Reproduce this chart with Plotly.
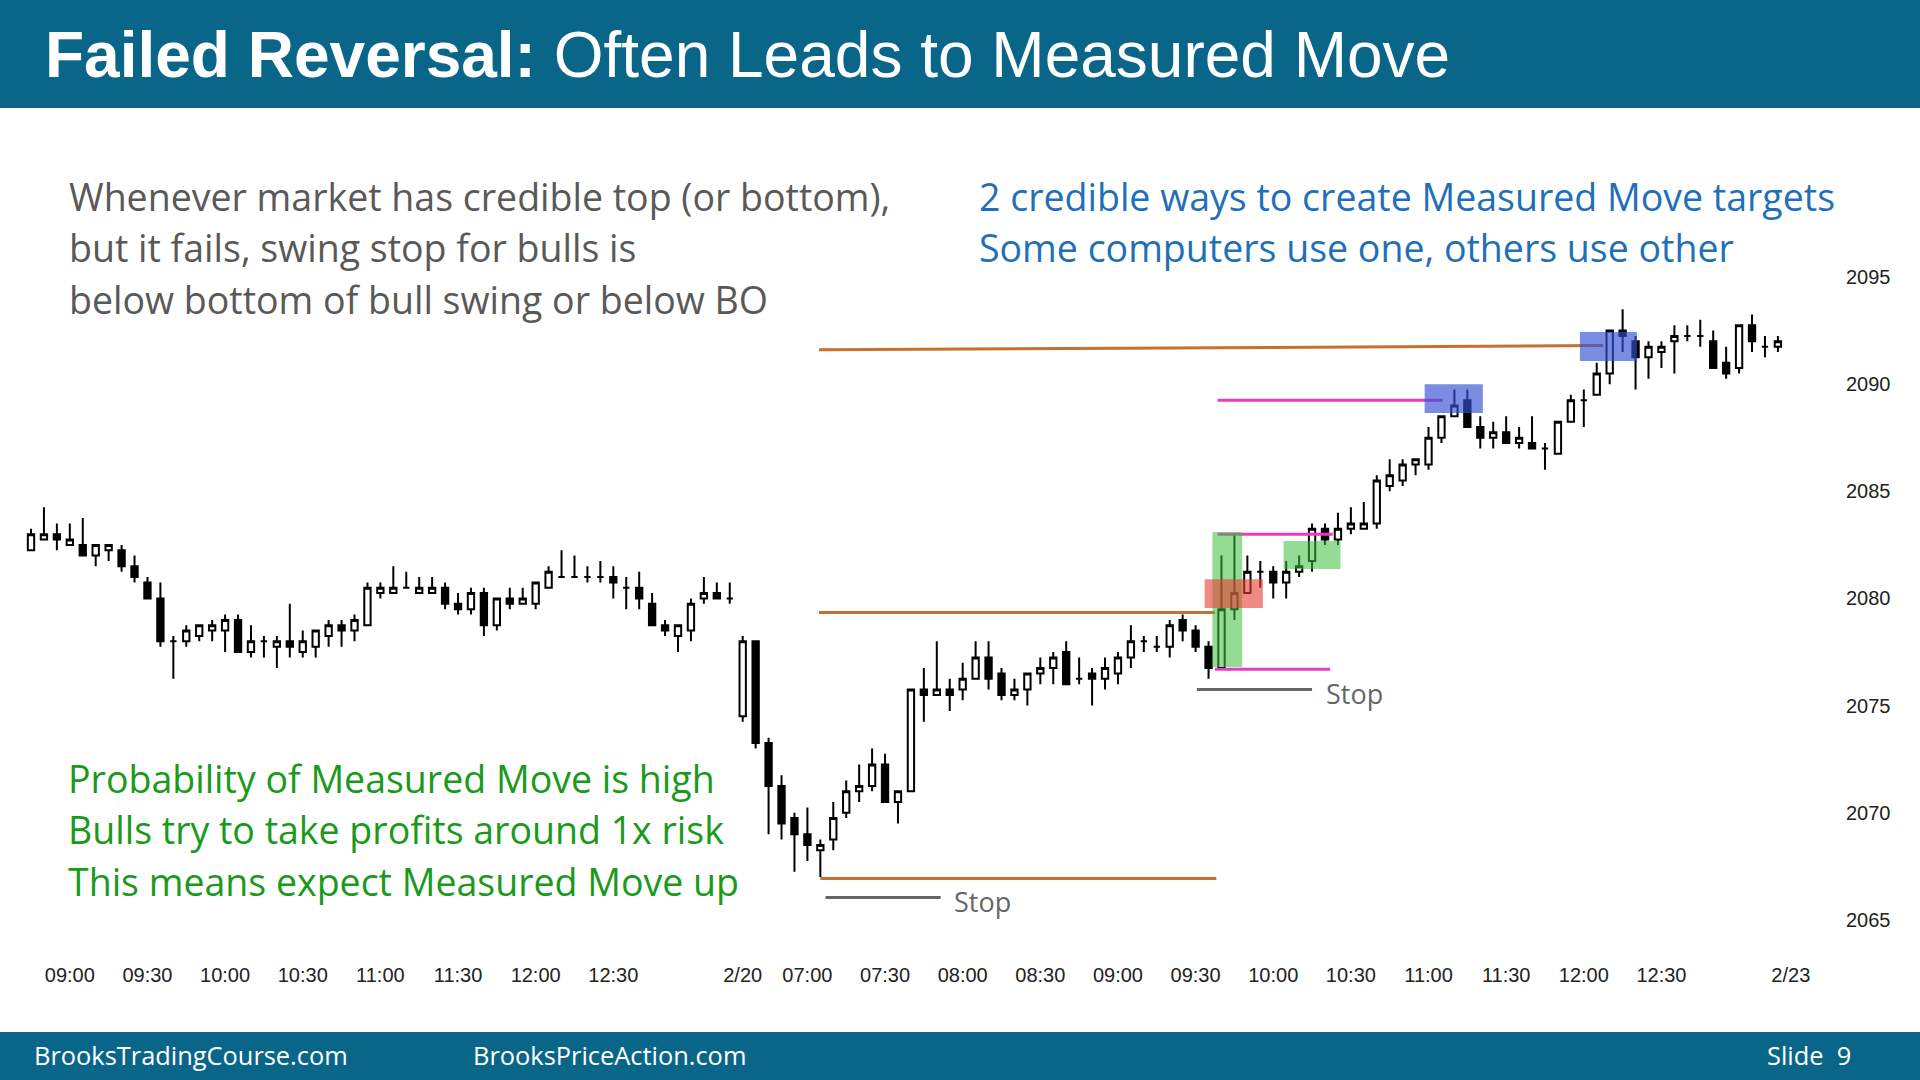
import plotly.graph_objects as go

# ---------------- data (5-min bars, index 0..135) ----------------
opens = [2082.25, 2082.75, 2083.0, 2082.5, 2082.5, 2082.0, 2082.25, 2082.25, 2081.5, 2080.75,
         2080.0, 2078.0, 2078.0, 2078.25, 2078.5, 2078.5, 2079.0, 2077.5, 2078.0, 2077.75,
         2078.0, 2077.5, 2077.75, 2078.25, 2078.75, 2078.5, 2078.75, 2080.25, 2080.25, 2080.5,
         2080.25, 2080.25, 2080.5, 2079.75, 2079.5, 2080.25, 2078.75, 2080.0, 2079.75, 2079.75,
         2080.5, 2081.0, 2081.0, 2081.0, 2081.0, 2081.0, 2080.5, 2080.5, 2079.75, 2078.75,
         2078.25, 2078.5, 2080.0, 2080.25, 2080.0,
         2074.5, 2078.0, 2073.25, 2071.25, 2069.75, 2069.0, 2068.25, 2068.75, 2070.0, 2071.0,
         2071.25, 2072.25, 2070.5, 2071.0, 2075.75, 2075.5, 2075.75, 2075.75, 2076.25, 2077.25,
         2076.5, 2075.5, 2075.75, 2076.5, 2076.75, 2077.5, 2076.25, 2076.5, 2076.25, 2076.5,
         2077.25, 2078.0, 2077.75, 2077.75, 2079.0, 2078.5, 2077.75, 2076.75, 2079.5, 2080.25,
         2081.25, 2081.25, 2080.75, 2081.25, 2081.75, 2083.25, 2082.75, 2083.25, 2083.25, 2083.5,
         2085.25, 2085.5, 2086.25, 2086.25, 2087.5, 2088.5, 2089.25, 2088.0, 2087.5, 2087.75,
         2087.25, 2087.25, 2087.0, 2086.75, 2088.25, 2089.25, 2089.5, 2090.5, 2092.5, 2092.0,
         2091.25, 2091.5, 2092.0, 2092.25, 2092.25, 2092.0, 2091.0, 2090.75, 2092.75, 2091.75,
         2091.75]
highs = [2083.25, 2084.25, 2083.5, 2083.5, 2083.75, 2082.5, 2082.5, 2082.5, 2082.0, 2081.0,
         2080.75, 2078.25, 2078.75, 2078.75, 2079.0, 2079.25, 2079.25, 2078.75, 2078.25, 2078.25,
         2079.75, 2078.5, 2078.5, 2079.0, 2079.0, 2079.25, 2080.75, 2080.75, 2081.5, 2081.25,
         2081.0, 2081.0, 2080.75, 2080.25, 2080.5, 2080.5, 2080.0, 2080.5, 2080.5, 2080.75,
         2081.5, 2082.25, 2082.0, 2081.5, 2081.75, 2081.5, 2081.0, 2081.25, 2080.25, 2079.0,
         2078.75, 2080.0, 2081.0, 2080.75, 2080.75,
         2078.25, 2078.0, 2073.5, 2071.75, 2070.0, 2070.25, 2068.75, 2070.5, 2071.5, 2072.25,
         2073.0, 2072.75, 2071.0, 2075.75, 2076.75, 2078.0, 2076.25, 2077.0, 2078.0, 2078.0,
         2076.75, 2076.25, 2076.5, 2077.25, 2077.5, 2078.0, 2077.25, 2076.75, 2077.25, 2077.5,
         2078.75, 2078.25, 2078.25, 2079.0, 2079.25, 2078.75, 2078.0, 2082.0, 2083.0, 2082.0,
         2081.75, 2081.5, 2081.75, 2082.0, 2083.5, 2083.5, 2084.0, 2084.25, 2084.5, 2085.75,
         2086.5, 2086.5, 2086.5, 2088.0, 2088.5, 2089.75, 2089.75, 2088.5, 2088.25, 2088.5,
         2088.0, 2088.5, 2087.25, 2088.25, 2089.5, 2089.75, 2091.0, 2092.5, 2093.5, 2092.25,
         2092.0, 2092.0, 2092.75, 2092.75, 2093.0, 2092.5, 2091.75, 2092.75, 2093.25, 2092.25,
         2092.25]
lows = [2082.25, 2082.75, 2082.25, 2082.5, 2082.0, 2081.5, 2081.75, 2081.25, 2080.75, 2080.0,
        2077.75, 2076.25, 2077.75, 2078.0, 2078.0, 2077.5, 2077.5, 2077.25, 2077.25, 2076.75,
        2077.25, 2077.25, 2077.25, 2077.75, 2077.75, 2078.0, 2078.75, 2080.0, 2080.25, 2080.5,
        2080.25, 2080.25, 2079.5, 2079.25, 2079.25, 2078.25, 2078.5, 2079.5, 2079.75, 2079.5,
        2080.5, 2081.0, 2081.0, 2080.75, 2080.75, 2080.0, 2079.5, 2079.5, 2078.75, 2078.25,
        2077.5, 2078.0, 2079.75, 2080.0, 2079.75,
        2074.25, 2073.0, 2069.0, 2068.75, 2067.25, 2067.75, 2067.0, 2068.25, 2069.75, 2070.5,
        2071.0, 2070.5, 2069.5, 2071.0, 2074.25, 2075.5, 2074.75, 2075.25, 2076.25, 2075.75,
        2075.25, 2075.25, 2075.0, 2076.0, 2076.0, 2076.0, 2076.0, 2075.0, 2075.75, 2076.0,
        2076.75, 2077.5, 2077.5, 2077.25, 2078.0, 2077.5, 2076.25, 2076.75, 2079.0, 2080.25,
        2080.5, 2080.0, 2080.0, 2081.0, 2081.25, 2082.5, 2082.5, 2083.0, 2083.25, 2083.25,
        2085.0, 2085.25, 2085.75, 2086.0, 2087.25, 2088.5, 2088.0, 2087.0, 2087.0, 2087.25,
        2087.0, 2087.0, 2086.0, 2086.75, 2088.25, 2088.0, 2089.5, 2090.0, 2091.5, 2089.75,
        2090.25, 2090.75, 2090.5, 2092.0, 2091.75, 2090.75, 2090.25, 2090.5, 2091.5, 2091.25,
        2091.5]
closes = [2083.0, 2083.0, 2082.75, 2082.75, 2082.0, 2082.5, 2082.5, 2081.5, 2081.0, 2080.0,
          2078.0, 2078.0, 2078.5, 2078.75, 2078.75, 2079.0, 2077.5, 2078.0, 2078.0, 2078.0,
          2077.75, 2078.0, 2078.5, 2078.75, 2078.5, 2079.0, 2080.5, 2080.5, 2080.5, 2080.5,
          2080.5, 2080.5, 2079.75, 2079.5, 2080.25, 2078.75, 2080.0, 2079.75, 2080.0, 2080.75,
          2081.25, 2081.0, 2081.0, 2081.0, 2081.0, 2080.75, 2080.5, 2080.0, 2078.75, 2078.5,
          2078.75, 2079.75, 2080.25, 2080.0, 2080.0,
          2078.0, 2073.25, 2071.25, 2069.5, 2069.0, 2068.5, 2068.5, 2069.75, 2071.0, 2071.25,
          2072.25, 2070.5, 2071.0, 2075.75, 2075.5, 2075.75, 2075.5, 2076.25, 2077.25, 2076.25,
          2075.5, 2075.75, 2076.5, 2076.75, 2077.25, 2076.0, 2076.25, 2076.25, 2076.75, 2077.25,
          2078.0, 2078.0, 2077.75, 2078.75, 2078.5, 2077.75, 2076.75, 2079.5, 2080.25, 2081.25,
          2081.25, 2080.75, 2081.25, 2081.5, 2083.25, 2082.75, 2083.25, 2083.5, 2083.5, 2085.5,
          2085.75, 2086.25, 2086.5, 2087.5, 2088.5, 2089.0, 2088.0, 2087.5, 2087.75, 2087.25,
          2087.5, 2087.0, 2087.0, 2088.25, 2089.25, 2089.25, 2090.5, 2092.5, 2092.25, 2091.25,
          2091.75, 2091.75, 2092.25, 2092.25, 2092.25, 2090.75, 2090.5, 2092.75, 2092.0, 2091.75,
          2092.0]
bar_index = list(range(len(opens)))

tick_idx = [3, 9, 15, 21, 27, 33, 39, 45, 55, 60, 66, 72, 78, 84, 90, 96, 102, 108, 114, 120, 126, 136]
tick_text = ["09:00", "09:30", "10:00", "10:30", "11:00", "11:30", "12:00", "12:30",
             "2/20", "07:00", "07:30", "08:00", "08:30", "09:00", "09:30", "10:00", "10:30",
             "11:00", "11:30", "12:00", "12:30", "2/23"]
price_ticks = [2065, 2070, 2075, 2080, 2085, 2090, 2095]

# levels: (x_start, x_end, price_start, price_end)
orange_levels = [(60.9, 121.5, 2091.6, 2091.8), (60.9, 91.5, 2079.35, 2079.35), (61.0, 91.6, 2066.93, 2066.93)]
magenta_levels = [(91.7, 109.1, 2089.25), (91.7, 100.6, 2083.0), (91.5, 100.4, 2076.7)]
stop_levels = [(90.1, 99.0, 2075.75), (61.4, 70.3, 2066.05)]
stop_labels = [(99.9, 2075.55), (71.2, 2065.85)]
# boxes: (x0, x1, p0, p1, kind)
boxes = [(91.3, 93.6, 2076.8, 2083.1, "green"), (96.8, 101.2, 2081.37, 2082.68, "green"),
         (90.7, 95.2, 2079.55, 2080.9, "red"),
         (107.7, 112.2, 2088.65, 2090.0, "blue"), (119.7, 124.1, 2091.08, 2092.43, "blue")]

title_bold = "Failed Reversal:"
title_rest = "Often Leads to Measured Move"
gray_lines = ["Whenever market has credible top (or bottom),",
              "but it fails, swing stop for bulls is",
              "below bottom of bull swing or below BO"]
blue_lines = ["2 credible ways to create Measured Move targets",
              "Some computers use one, others use other"]
green_lines = ["Probability of Measured Move is high",
               "Bulls try to take profits around 1x risk",
               "This means expect Measured Move up"]
footer_items = [("BrooksTradingCourse.com", 32), ("BrooksPriceAction.com", 471), ("Slide  9", 1765)]

# ---------------- layout geometry (pixels) ----------------
W, H = 1920, 1080
PL, PR, PT, PB = 0, 1840, 108, 962
BAR0_X, BAR_W = 31.0, 12.94
PX_PER_PT, Y2095 = 21.43, 277.0

xr = [(PL - BAR0_X) / BAR_W, (PR - BAR0_X) / BAR_W]
yr = [2095 - (PB - Y2095) / PX_PER_PT, 2095 + (Y2095 - PT) / PX_PER_PT]


def pxp(x):
    return (x - PL) / (PR - PL)


def pyp(y):
    return (PB - y) / (PB - PT)


TEAL = "rgb(10,102,136)"
SANS = "Open Sans, Noto Sans, sans-serif"
ARIAL = "Liberation Sans, Arial, sans-serif"
BODY_SIZE = 37.5

fig = go.Figure()
fig.add_trace(go.Candlestick(
    x=bar_index, open=opens, high=highs, low=lows, close=closes,
    increasing=dict(fillcolor="white", line=dict(color="black", width=2)),
    decreasing=dict(fillcolor="black", line=dict(color="black", width=2)),
    whiskerwidth=0, hoverinfo="skip", showlegend=False,
))

shapes = []
# header and footer bars
shapes.append(dict(type="rect", xref="paper", yref="paper", x0=pxp(0), x1=pxp(W), y0=pyp(0), y1=pyp(108),
                   fillcolor=TEAL, line=dict(width=0), layer="above"))
shapes.append(dict(type="rect", xref="paper", yref="paper", x0=pxp(0), x1=pxp(W), y0=pyp(1032), y1=pyp(H),
                   fillcolor=TEAL, line=dict(width=0), layer="above"))

for x0, x1, p0, p1 in orange_levels:
    shapes.append(dict(type="line", xref="x", yref="y", x0=x0, x1=x1, y0=p0, y1=p1,
                       line=dict(color="#C8702E", width=3), layer="above"))
for x0, x1, p in magenta_levels:
    shapes.append(dict(type="line", xref="x", yref="y", x0=x0, x1=x1, y0=p, y1=p,
                       line=dict(color="#E83CC0", width=3), layer="above"))
for x0, x1, p in stop_levels:
    shapes.append(dict(type="line", xref="x", yref="y", x0=x0, x1=x1, y0=p, y1=p,
                       line=dict(color="#666666", width=3), layer="above"))

box_colors = {"green": ("rgb(60,190,60)", 0.55), "red": ("rgb(230,60,50)", 0.6), "blue": ("rgb(50,80,210)", 0.65)}
for x0, x1, p0, p1, kind in boxes:
    col, op = box_colors[kind]
    shapes.append(dict(type="rect", xref="x", yref="y", x0=x0, x1=x1, y0=p0, y1=p1,
                       fillcolor=col, opacity=op, line=dict(width=0), layer="above"))

ann = []
ann.append(dict(xref="paper", yref="paper", x=pxp(43), y=pyp(55), xanchor="left", yanchor="middle",
                text="<b>" + title_bold + "</b> " + title_rest, showarrow=False,
                font=dict(family=ARIAL, size=64, color="white")))
for i, t in enumerate(gray_lines):
    ann.append(dict(xref="paper", yref="paper", x=pxp(67), y=pyp(196 + 51.5 * i), xanchor="left",
                    yanchor="middle", text=t, showarrow=False,
                    font=dict(family=SANS, size=BODY_SIZE, color="#595959")))
for i, t in enumerate(blue_lines):
    ann.append(dict(xref="paper", yref="paper", x=pxp(977), y=pyp(196 + 51.5 * i), xanchor="left",
                    yanchor="middle", text=t, showarrow=False,
                    font=dict(family=SANS, size=BODY_SIZE, color="#1F70B8")))
for i, t in enumerate(green_lines):
    ann.append(dict(xref="paper", yref="paper", x=pxp(66), y=pyp(778 + 51.5 * i), xanchor="left",
                    yanchor="middle", text=t, showarrow=False,
                    font=dict(family=SANS, size=BODY_SIZE, color="#1A9A1A")))
for xi, p in stop_labels:
    ann.append(dict(xref="x", yref="y", x=xi, y=p, xanchor="left", yanchor="middle", text="Stop",
                    showarrow=False, font=dict(family=SANS, size=27, color="#666666")))
for t, x in footer_items:
    ann.append(dict(xref="paper", yref="paper", x=pxp(x), y=pyp(1055), xanchor="left", yanchor="middle",
                    text=t, showarrow=False, font=dict(family=SANS, size=25.4, color="white")))

fig.update_layout(
    width=W, height=H,
    margin=dict(l=PL, r=W - PR, t=PT, b=H - PB, autoexpand=False),
    paper_bgcolor="white", plot_bgcolor="white",
    shapes=shapes, annotations=ann, showlegend=False,
    xaxis=dict(range=xr, tickmode="array", tickvals=tick_idx, ticktext=tick_text,
               showgrid=False, zeroline=False, showline=False, ticks="",
               tickfont=dict(family=ARIAL, size=20, color="#222222"),
               rangeslider=dict(visible=False), fixedrange=True, automargin=False,
               ticklabelstandoff=-1),
    yaxis=dict(range=yr, side="right", tickmode="array", tickvals=price_ticks,
               showgrid=False, zeroline=False, showline=False, ticks="",
               tickfont=dict(family=ARIAL, size=20, color="#222222"), fixedrange=True, automargin=False,
               ticklabelstandoff=5),
)

fig.write_html("out.html", config={"displayModeBar": False},
               post_script="document.body.style.margin='0';document.body.style.overflow='hidden';")
